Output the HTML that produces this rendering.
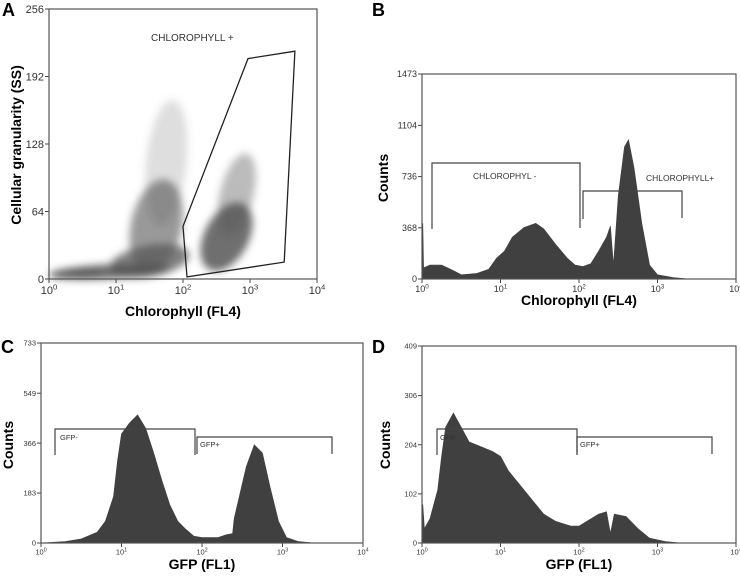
<!DOCTYPE html>
<html><head><meta charset="utf-8"><style>
html,body{margin:0;padding:0;background:#fff;}
svg{display:block;font-family:"Liberation Sans",Arial,sans-serif;}
</style></head><body>
<svg id="fig" width="740" height="580" viewBox="0 0 740 580">
<defs><filter id="blur" x="-50%" y="-50%" width="200%" height="200%"><feGaussianBlur stdDeviation="4"/></filter></defs>
<g id="root"></g>
</svg>
<script>
// ---- Panel A data ----
const aGateX = [2.06, 2.0, 2.97, 3.67, 3.51];      // log10 chlorophyll
const aGateY = [2, 50, 209, 216, 16];               // SS
const aCloudX = [0.9, 1.5, 1.6, 1.75, 2.65, 2.8, 0.4];
const aCloudY = [7, 17, 50, 110, 40, 80, 5];
const aCloudRx = [0.9, 0.6, 0.38, 0.3, 0.33, 0.25, 0.4];
const aCloudRy = [7, 15, 45, 60, 35, 40, 5];
const aCloudRot = [-3, -10, 12, 6, 28, 14, -3];
const aCloudOp = [0.85, 0.75, 0.6, 0.2, 0.85, 0.4, 0.6];
const aYTicks = [0, 64, 128, 192, 256];
// ---- Panel B data ----
const bX = [0,0.01,0.02,0.1,0.25,0.4,0.5,0.7,0.85,0.95,1.05,1.15,1.3,1.45,1.55,1.7,1.85,1.95,2.05,2.15,2.25,2.35,2.4,2.44,2.5,2.58,2.63,2.7,2.8,2.9,3.0,3.2,3.4];
const bY = [0,400,80,100,100,60,30,40,70,150,200,300,370,400,360,250,150,100,90,110,200,300,380,100,600,950,1000,800,400,100,30,10,0];
const bYTicks = [0, 368, 736, 1104, 1473];
// ---- Panel C data ----
const cX = [0,0.3,0.5,0.7,0.8,0.9,0.95,1.0,1.1,1.2,1.3,1.4,1.5,1.6,1.7,1.8,1.9,2.0,2.2,2.3,2.38,2.4,2.55,2.65,2.75,2.85,2.95,3.05,3.2,3.4];
const cY = [0,5,15,40,80,170,300,400,440,470,420,330,230,140,80,50,25,20,20,30,35,90,280,360,330,200,80,20,5,0];
const cYTicks = [0, 183, 366, 549, 733];
// ---- Panel D data ----
const dX = [0,0.01,0.03,0.1,0.2,0.25,0.3,0.4,0.5,0.6,0.75,0.9,1.0,1.1,1.25,1.4,1.55,1.7,1.9,2.0,2.1,2.25,2.35,2.4,2.45,2.6,2.75,2.9,3.1,3.3];
const dY = [0,80,30,50,110,180,240,270,240,210,200,190,180,150,120,90,60,45,35,35,45,60,65,20,60,55,30,10,3,0];
const dYTicks = [0, 102, 204, 306, 409];

const NS = "http://www.w3.org/2000/svg";
const root = document.getElementById('root');
function el(tag, attrs, parent, text){
  const e = document.createElementNS(NS, tag);
  for (const k in attrs) e.setAttribute(k, attrs[k]);
  if (text !== undefined) e.textContent = text;
  (parent || root).appendChild(e);
  return e;
}
function mkPanel(p){
  const sx = v => p.x0 + (p.x1 - p.x0) * v / 4;
  const sy = v => p.y1 - (p.y1 - p.y0) * v / p.ymax;
  const g = el('g', {});
  
  
  const lt = el('text', {x:p.lx, y:p.ly, 'font-size':18, 'font-weight':'bold'}, g, p.letter);
  
  
  p.yticks.forEach(t => {
    const y = sy(t);
    el('line', {x1:p.x0-4, x2:p.x0, y1:y, y2:y, stroke:'#444'}, g);
    const tx = el('text', {x:p.x0-5, y:y+p.tf*0.35, 'font-size':p.tf, 'text-anchor':'end', fill:'#333'}, g, String(t));
    
    
  });
  for (let d = 0; d <= 4; d++) {
    const x = sx(d);
    el('line', {x1:x, x2:x, y1:p.y1, y2:p.y1+4, stroke:'#444'}, g);
    const tx = el('text', {x:x, y:p.y1+p.tf+4, 'font-size':p.tf, 'text-anchor':'middle', fill:'#333'}, g);
    
    
    tx.appendChild(document.createTextNode('10'));
    el('tspan', {dy:-p.tf*0.4, 'font-size':p.tf*0.7}, tx, String(d));
  }
  const xt = el('text', {x:(p.x0+p.x1)/2, y:p.xty, 'font-size':14, 'font-weight':'bold', 'text-anchor':'middle'}, g, p.xtitle);
  
  
  const yt = el('text', {x:0, y:0, 'font-size':14, 'font-weight':'bold', 'text-anchor':'middle', transform:`translate(${p.ytx},${p.yty}) rotate(-90)`}, g, p.ytitle);
  
  
  return {g, sx, sy};
}
function histo(P, xs, ys){
  let d = `M${P.sx(xs[0])},${P.sy(0)}`;
  for (let i = 0; i < xs.length; i++) d += ` L${P.sx(xs[i]).toFixed(1)},${P.sy(ys[i]).toFixed(1)}`;
  d += ` L${P.sx(xs[xs.length-1])},${P.sy(0)} Z`;
  const h = el('path', {d, fill:'#404040', stroke:'#404040', 'stroke-width':0.6}, P.g);
  
  
}
function bracket(g, x1, x2, top, b1, b2, label, lx, ly, fs){
  const b = el('path', {d:`M${x1},${b1} V${top} H${x2} V${b2}`, fill:'none', stroke:'#444', 'stroke-width':1.2}, g);
  
  
  const t = el('text', {x:lx, y:ly, 'font-size':fs, fill:'#333'}, g, label);
  
  
}
function frame(P, p){
  const r = el('rect', {x:p.x0, y:p.y0, width:p.x1-p.x0, height:p.y1-p.y0, fill:'none', stroke:'#555', 'stroke-width':1.2}, P.g);
  
  
}

// Panel A
const pa = {name:'panel-a', letter:'A', lx:2, ly:16, x0:49, x1:317, y0:9, y1:279, ymax:256, yticks:aYTicks, tf:11,
  xtitle:'Chlorophyll (FL4)', xty:316, ytitle:'Cellular granularity (SS)', ytx:21, yty:145};
const A = mkPanel(pa);
const cl = el('g', {filter:'url(#blur)'}, A.g);


for (let i = 0; i < aCloudX.length; i++) {
  const cx = A.sx(aCloudX[i]), cy = A.sy(aCloudY[i]);
  const rx = (pa.x1-pa.x0)/4*aCloudRx[i], ry = (pa.y1-pa.y0)/256*aCloudRy[i];
  const e = el('ellipse', {cx, cy, rx, ry, fill:'#555', opacity:aCloudOp[i], transform:`rotate(${aCloudRot[i]} ${cx} ${cy})`}, cl);
  
  
}
frame(A, pa);
const gp = aGateX.map((x,i) => `${A.sx(x).toFixed(1)},${A.sy(aGateY[i]).toFixed(1)}`).join(' ');
const gate = el('polygon', {points:gp, fill:'none', stroke:'#222', 'stroke-width':1.3}, A.g);


const gl = el('text', {x:151, y:41, 'font-size':10, fill:'#333'}, A.g, 'CHLOROPHYLL +');



// Panel B
const pb = {name:'panel-b', letter:'B', lx:372, ly:16, x0:422, x1:736, y0:74, y1:279, ymax:1473, yticks:bYTicks, tf:9,
  xtitle:'Chlorophyll (FL4)', xty:305, ytitle:'Counts', ytx:388, yty:178};
const B = mkPanel(pb);
histo(B, bX, bY);
frame(B, pb);
bracket(B.g, 432, 580, 163, 229, 228, 'CHLOROPHYL -', 473, 179, 8.5);
bracket(B.g, 583, 682, 191, 219, 218, 'CHLOROPHYLL+', 646, 181, 8.5);

// Panel C
const pc = {name:'panel-c', letter:'C', lx:1, ly:353, x0:41, x1:363, y0:343, y1:543, ymax:733, yticks:cYTicks, tf:7.5,
  xtitle:'GFP (FL1)', xty:569, ytitle:'Counts', ytx:13, yty:445};
const C = mkPanel(pc);
histo(C, cX, cY);
frame(C, pc);
bracket(C.g, 55, 195, 429, 455, 455, 'GFP-', 60, 440, 7.5);
bracket(C.g, 197, 332, 437, 454, 454, 'GFP+', 200, 447, 7.5);

// Panel D
const pd = {name:'panel-d', letter:'D', lx:372, ly:353, x0:422, x1:736, y0:346, y1:543, ymax:409, yticks:dYTicks, tf:7.5,
  xtitle:'GFP (FL1)', xty:569, ytitle:'Counts', ytx:390, yty:445};
const D = mkPanel(pd);
histo(D, dX, dY);
frame(D, pd);
bracket(D.g, 437, 577, 429, 455, 455, 'GFP-', 440, 440, 7.5);
bracket(D.g, 577, 712, 437, 454, 454, 'GFP+', 580, 447, 7.5);
</script>
</body></html>
